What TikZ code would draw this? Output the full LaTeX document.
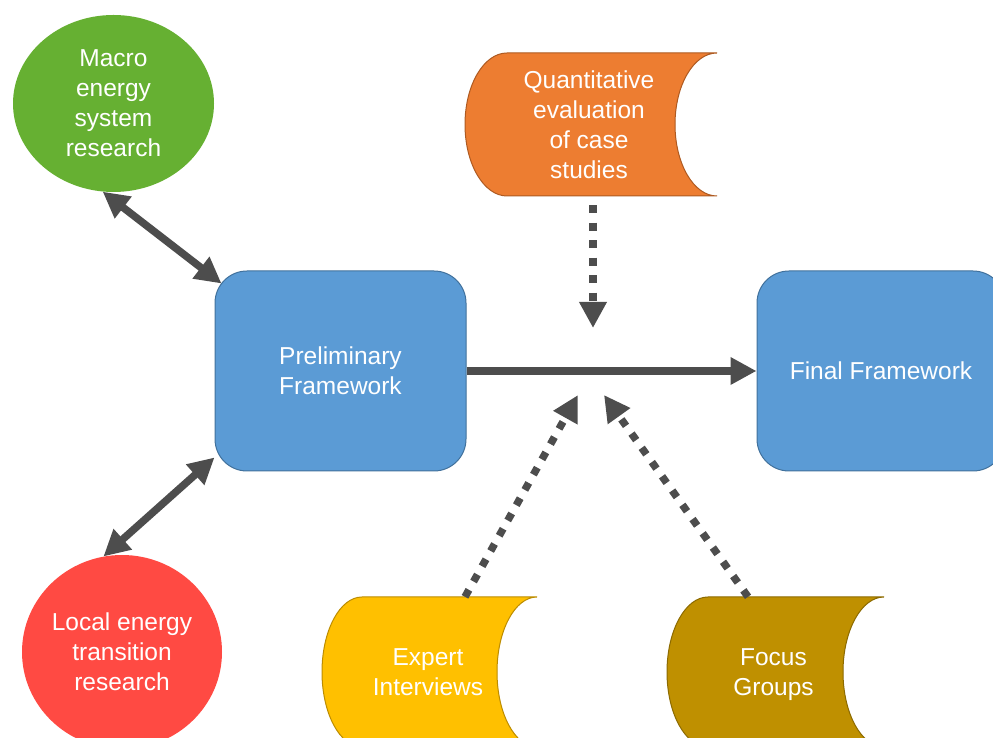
\documentclass[tikz,border=0pt]{standalone}
\usepackage{fontspec}
\setmainfont{Liberation Sans}
\usetikzlibrary{arrows.meta,shapes.geometric,calc}
\definecolor{cgreen}{HTML}{66B032}
\definecolor{cred}{HTML}{FF4A43}
\definecolor{cblue}{HTML}{5B9BD5}
\definecolor{cblueb}{HTML}{41719C}
\definecolor{corange}{HTML}{ED7D31}
\definecolor{corangeb}{HTML}{AE5A21}
\definecolor{cyellow}{HTML}{FFC000}
\definecolor{cyellowb}{HTML}{BC8C00}
\definecolor{cgold}{HTML}{BF9000}
\definecolor{cgoldb}{HTML}{8C6A00}
\definecolor{carrow}{HTML}{4D4D4D}
\begin{document}
\begin{tikzpicture}[x=1pt,y=1pt,
  lbl/.style={text=white,font=\fontsize{24.5}{30}\selectfont,align=center,inner sep=0pt},
  box/.style={lbl,draw=cblueb,fill=cblue,line width=1pt,rounded corners=32pt,minimum height=200pt},
  ell/.style={lbl,ellipse,draw=none},
  tri/.tip={Triangle[length=26pt,width=26pt]},
  conn/.style={draw=carrow,line width=7.5pt,-tri},
  both/.style={draw=carrow,line width=7.5pt,tri-tri},
  dots/.style={conn,dash pattern=on 8pt off 9.5pt},
  datashape/.style={line width=1pt},
]
\useasboundingbox (0,0) rectangle (993,738);
\clip (0,0) rectangle (993,738);

% ellipses
\node[ell,fill=cgreen,minimum width=201pt,minimum height=177pt] (macro) at (113.5,634.5) {Macro\\energy\\system\\research};
\node[ell,fill=cred,minimum width=200pt,minimum height=194pt] (local) at (122,86) {Local energy\\transition\\research};

% boxes
\node[box,minimum width=251pt] (prelim) at (340.5,367) {Preliminary\\Framework};
\node[box,minimum width=248pt] (final) at (881,367) {Final Framework};

% stored-data shapes
\path[datashape,fill=corange,draw=corangeb] (507,685) -- (717,685)
  arc[start angle=90,end angle=270,x radius=42,y radius=71.5] -- (507,542)
  arc[start angle=270,end angle=90,x radius=42,y radius=71.5] -- cycle;
\node[lbl,minimum width=252pt,minimum height=143pt] (quant) at (589,613.5) {Quantitative\\evaluation\\of case\\studies};

\path[datashape,fill=cyellow,draw=cyellowb] (362,141) -- (537,141)
  arc[start angle=90,end angle=270,x radius=40,y radius=75] -- (362,-9)
  arc[start angle=270,end angle=90,x radius=40,y radius=75] -- cycle;
\node[lbl,minimum width=215pt,minimum height=150pt] (expert) at (428,66) {Expert\\Interviews};

\path[datashape,fill=cgold,draw=cgoldb] (708,141) -- (884,141)
  arc[start angle=90,end angle=270,x radius=41,y radius=75] -- (708,-9)
  arc[start angle=270,end angle=90,x radius=41,y radius=75] -- cycle;
\node[lbl,minimum width=217pt,minimum height=150pt] (focus) at (773.5,63) {Focus\\Groups};

% hub points
\coordinate (hubT) at (593,410);
\coordinate (hubL) at (578,343);
\coordinate (hubR) at (604,343);

% connectors
\draw[conn,line width=8pt] (prelim.east) -- (final.west);
\draw[dots] ([xshift=4pt,yshift=-9pt]quant.south) -- (hubT);
\draw[dots] ([xshift=37pt]expert.north) -- (hubL);
\draw[dots] ([xshift=-25.5pt,yshift=3pt]focus.north) -- (hubR);
\draw[both] (macro.263) -- ([shift={(7pt,-13pt)}]prelim.north west);
\draw[both] ([shift={(0pt,14pt)}]prelim.south west) -- (local.101);
\end{tikzpicture}
\end{document}
